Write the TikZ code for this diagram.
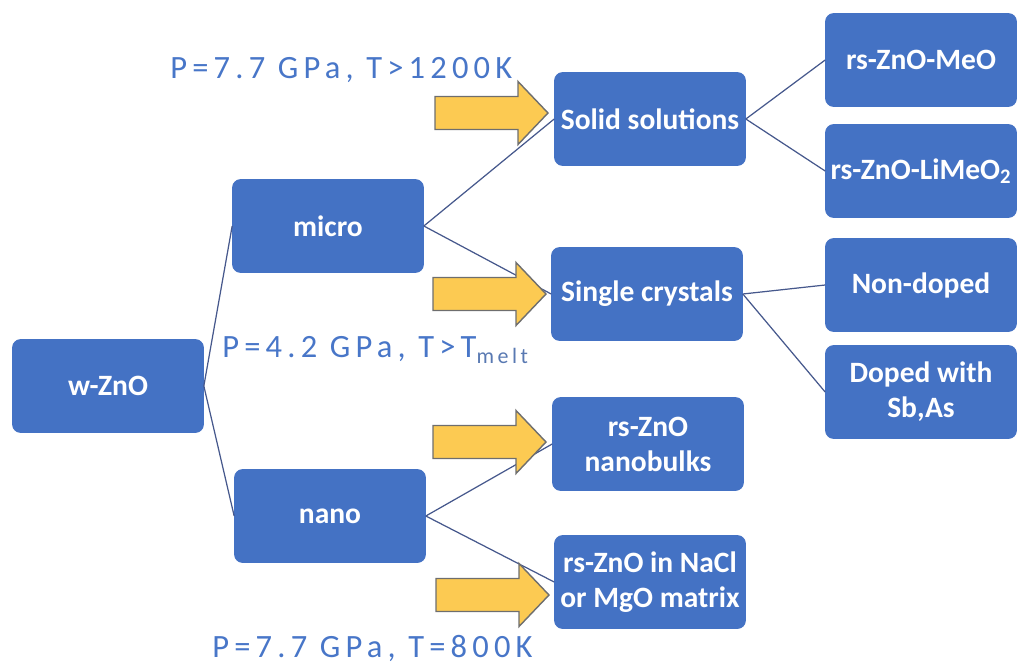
\documentclass[tikz,border=0pt]{standalone}
\usepackage{fontspec}
\setmainfont{Carlito}
\newfontfamily\lblfont[LetterSpace=16]{Carlito}
\definecolor{boxblue}{HTML}{4472C4}
\definecolor{linecol}{RGB}{70,88,140}
\definecolor{arrowfill}{RGB}{252,202,82}
\definecolor{arrowdraw}{RGB}{110,110,110}
\definecolor{lblblue}{RGB}{72,118,200}
\newcommand{\yelarrow}[3]{% name, x0, yc
  \path[yarrow] (#2,#3-16.5) -- ++(83,0) -- ++(0,-15) -- (#2+113,#3)
    -- (#2+83,#3+31.5) -- ++(0,-15) -- (#2,#3+16.5) -- cycle;
  \coordinate (#1) at (#2+113,#3);}
\begin{document}
\begin{tikzpicture}[x=0.02cm,y=-0.02cm,
  box/.style={rectangle, rounded corners=0.16cm, fill=boxblue, draw=boxblue,
    text=white, font=\bfseries\fontsize{16.8}{20}\selectfont,
    minimum width=3.82cm, minimum height=1.86cm, align=center, inner sep=0pt},
  yarrow/.style={fill=arrowfill, draw=arrowdraw, line width=0.8pt, line join=miter},
  conn/.style={draw=linecol, line width=0.7pt},
  lbl/.style={text=lblblue, font=\lblfont\fontsize{18.5}{22}\selectfont, inner sep=0pt, anchor=base west}]
\useasboundingbox (0,0) rectangle (1021,666);
% boxes
\node[box] (wzno) at (108,386) {w-ZnO};
\node[box] (micro) at (328,226) {micro};
\node[box] (nano) at (330,516) {nano};
\node[box] (solid) at (650,119) {Solid solutions};
\node[box] (single) at (647,294) {Single crystals};
\node[box] (bulk) at (648,444) {rs-ZnO\\nanobulks};
\node[box] (matrix) at (650,582) {rs-ZnO in NaCl\\or MgO matrix};
\node[box] (meo) at (921,60) {rs-ZnO-MeO};
\node[box] (limeo) at (921,171) {rs-ZnO-LiMeO\textsubscript{2}};
\node[box] (nondoped) at (921,285) {Non-doped};
\node[box] (doped) at (921,392) {Doped with\\Sb,As};
% connectors
\draw[conn] (wzno.east) -- (micro.west);
\draw[conn] (wzno.east) -- (nano.west);
\draw[conn] (micro.east) -- (solid.west);
\draw[conn] (micro.east) -- (single.west);
\draw[conn] (nano.east) -- (bulk.west);
\draw[conn] (nano.east) -- (matrix.west);
\draw[conn] (solid.east) -- (meo.west);
\draw[conn] (solid.east) -- (limeo.west);
\draw[conn] (single.east) -- (nondoped.west);
\draw[conn] (single.east) -- (doped.west);
% arrows
\yelarrow{a1}{435}{113}
\yelarrow{a2}{433}{294}
\yelarrow{a3}{433}{442}
\yelarrow{a4}{436}{595}
% labels
\node[lbl] (l1) at (170,78) {P=7.7 GPa, T>1200K};
\node[lbl] (l2) at (222,357) {P=4.2 GPa, T>T\raisebox{-0.45ex}{\fontsize{12.5}{13}\selectfont\color{lblblue!70!gray}melt}};
\node[lbl] (l3) at (212,657) {P=7.7 GPa, T=800K};
\end{tikzpicture}
\end{document}
